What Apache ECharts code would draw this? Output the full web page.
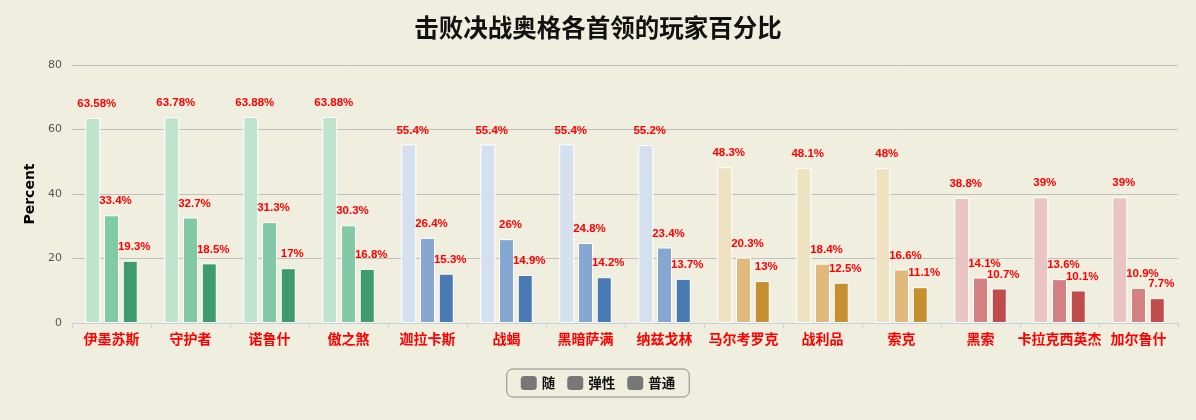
<!DOCTYPE html>
<html>
<head>
<meta charset="utf-8">
<script src="https://cdn.jsdelivr.net/npm/echarts@6/dist/echarts.min.js"></script>
<style>
  html, body { margin: 0; padding: 0; background: #f0eedf; }
  #chart { width: 1196px; height: 420px; }
</style>
</head>
<body>
<div id="chart"></div>
<script>
// bosses
const categories = ['伊墨苏斯', '守护者', '诺鲁什', '傲之煞', '迦拉卡斯', '战蝎', '黑暗萨满',
  '纳兹戈林', '马尔考罗克', '战利品', '索克', '黑索', '卡拉克西英杰', '加尔鲁什']
const seriesNames = ['随', '弹性', '普通']
const suiData = [63.58, 63.78, 63.88, 63.88, 55.4, 55.4, 55.4, 55.2, 48.3, 48.1, 48, 38.8, 39, 39]
const tanxingData = [33.4, 32.7, 31.3, 30.3, 26.4, 26, 24.8, 23.4, 20.3, 18.4, 16.6, 14.1, 13.6, 10.9]
const putongData = [19.3, 18.5, 17, 16.8, 15.3, 14.9, 14.2, 13.7, 13, 12.5, 11.1, 10.7, 10.1, 7.7]

// colour group of each boss (0 green, 1 blue, 2 tan, 3 red)
const groupOf = [0, 0, 0, 0, 1, 1, 1, 1, 2, 2, 2, 3, 3, 3]
const palette = [
  ['#c0e3d0', '#82c9a5', '#3f9a6d'],
  ['#d5e0ee', '#86a7d1', '#4a7ab3'],
  ['#eee2c1', '#e1b97b', '#c68f30'],
  ['#eac3c3', '#d48181', '#c04c4c']
]

const chart = echarts.init(document.getElementById('chart'))

function makeSeries(name, data, idx) {
  return {
    name: name,
    type: 'bar',
    data: data,
    barWidth: 15,
    barGap: '25%',
    itemStyle: {
      color: p => palette[groupOf[p.dataIndex]][idx],
      borderColor: '#ffffff',
      borderWidth: 1
    },
    label: {
      show: true,
      position: 'top',
      distance: 8,
      offset: [4, 0],
      formatter: '{c}%',
      color: '#ff0000',
      fontWeight: 'bold',
      fontSize: 11.5,
      fontFamily: 'Liberation Sans'
    }
  }
}

chart.setOption({
  backgroundColor: '#f0eedf',
  animation: false,
  title: {
    text: '击败决战奥格各首领的玩家百分比',
    left: 'center',
    top: 10,
    textStyle: {
      fontFamily: 'Noto Sans CJK SC',
      fontSize: 24.5,
      fontWeight: 'bold',
      color: '#111'
    }
  },
  legend: {
    data: seriesNames,
    bottom: 23,
    left: 'center',
    itemWidth: 16,
    itemHeight: 14,
    itemGap: 12,
    padding: [7, 14],
    borderColor: '#888',
    borderWidth: 1,
    borderRadius: 6,
    icon: 'roundRect',
    itemStyle: { color: '#777', borderWidth: 0 },
    textStyle: { fontFamily: 'Noto Sans CJK SC', fontSize: 13.5, fontWeight: 'bold', color: '#111' }
  },
  grid: { left: 72, right: 18, top: 65, bottom: 97 },
  xAxis: {
    type: 'category',
    data: categories,
    axisLine: { lineStyle: { color: '#c3d0e0' } },
    axisTick: { show: true, lineStyle: { color: '#c3d0e0' } },
    axisLabel: {
      color: '#ff0000',
      fontFamily: 'Noto Sans CJK SC',
      fontWeight: 'bold',
      fontSize: 14,
      interval: 0,
      margin: 9
    }
  },
  yAxis: {
    type: 'value',
    min: 0,
    max: 80,
    interval: 20,
    name: 'Percent',
    nameLocation: 'middle',
    nameGap: 33,
    nameTextStyle: { fontFamily: 'DejaVu Sans', fontWeight: 'bold', fontSize: 14, color: '#000' },
    axisLine: { show: false },
    axisTick: { show: false },
    axisLabel: { color: '#555', fontSize: 11, fontFamily: 'DejaVu Sans', margin: 10 },
    splitLine: { lineStyle: { color: '#c0c0c0' } }
  },
  series: [
    makeSeries(seriesNames[0], suiData, 0),
    makeSeries(seriesNames[1], tanxingData, 1),
    makeSeries(seriesNames[2], putongData, 2)
  ]
})
</script>
</body>
</html>
